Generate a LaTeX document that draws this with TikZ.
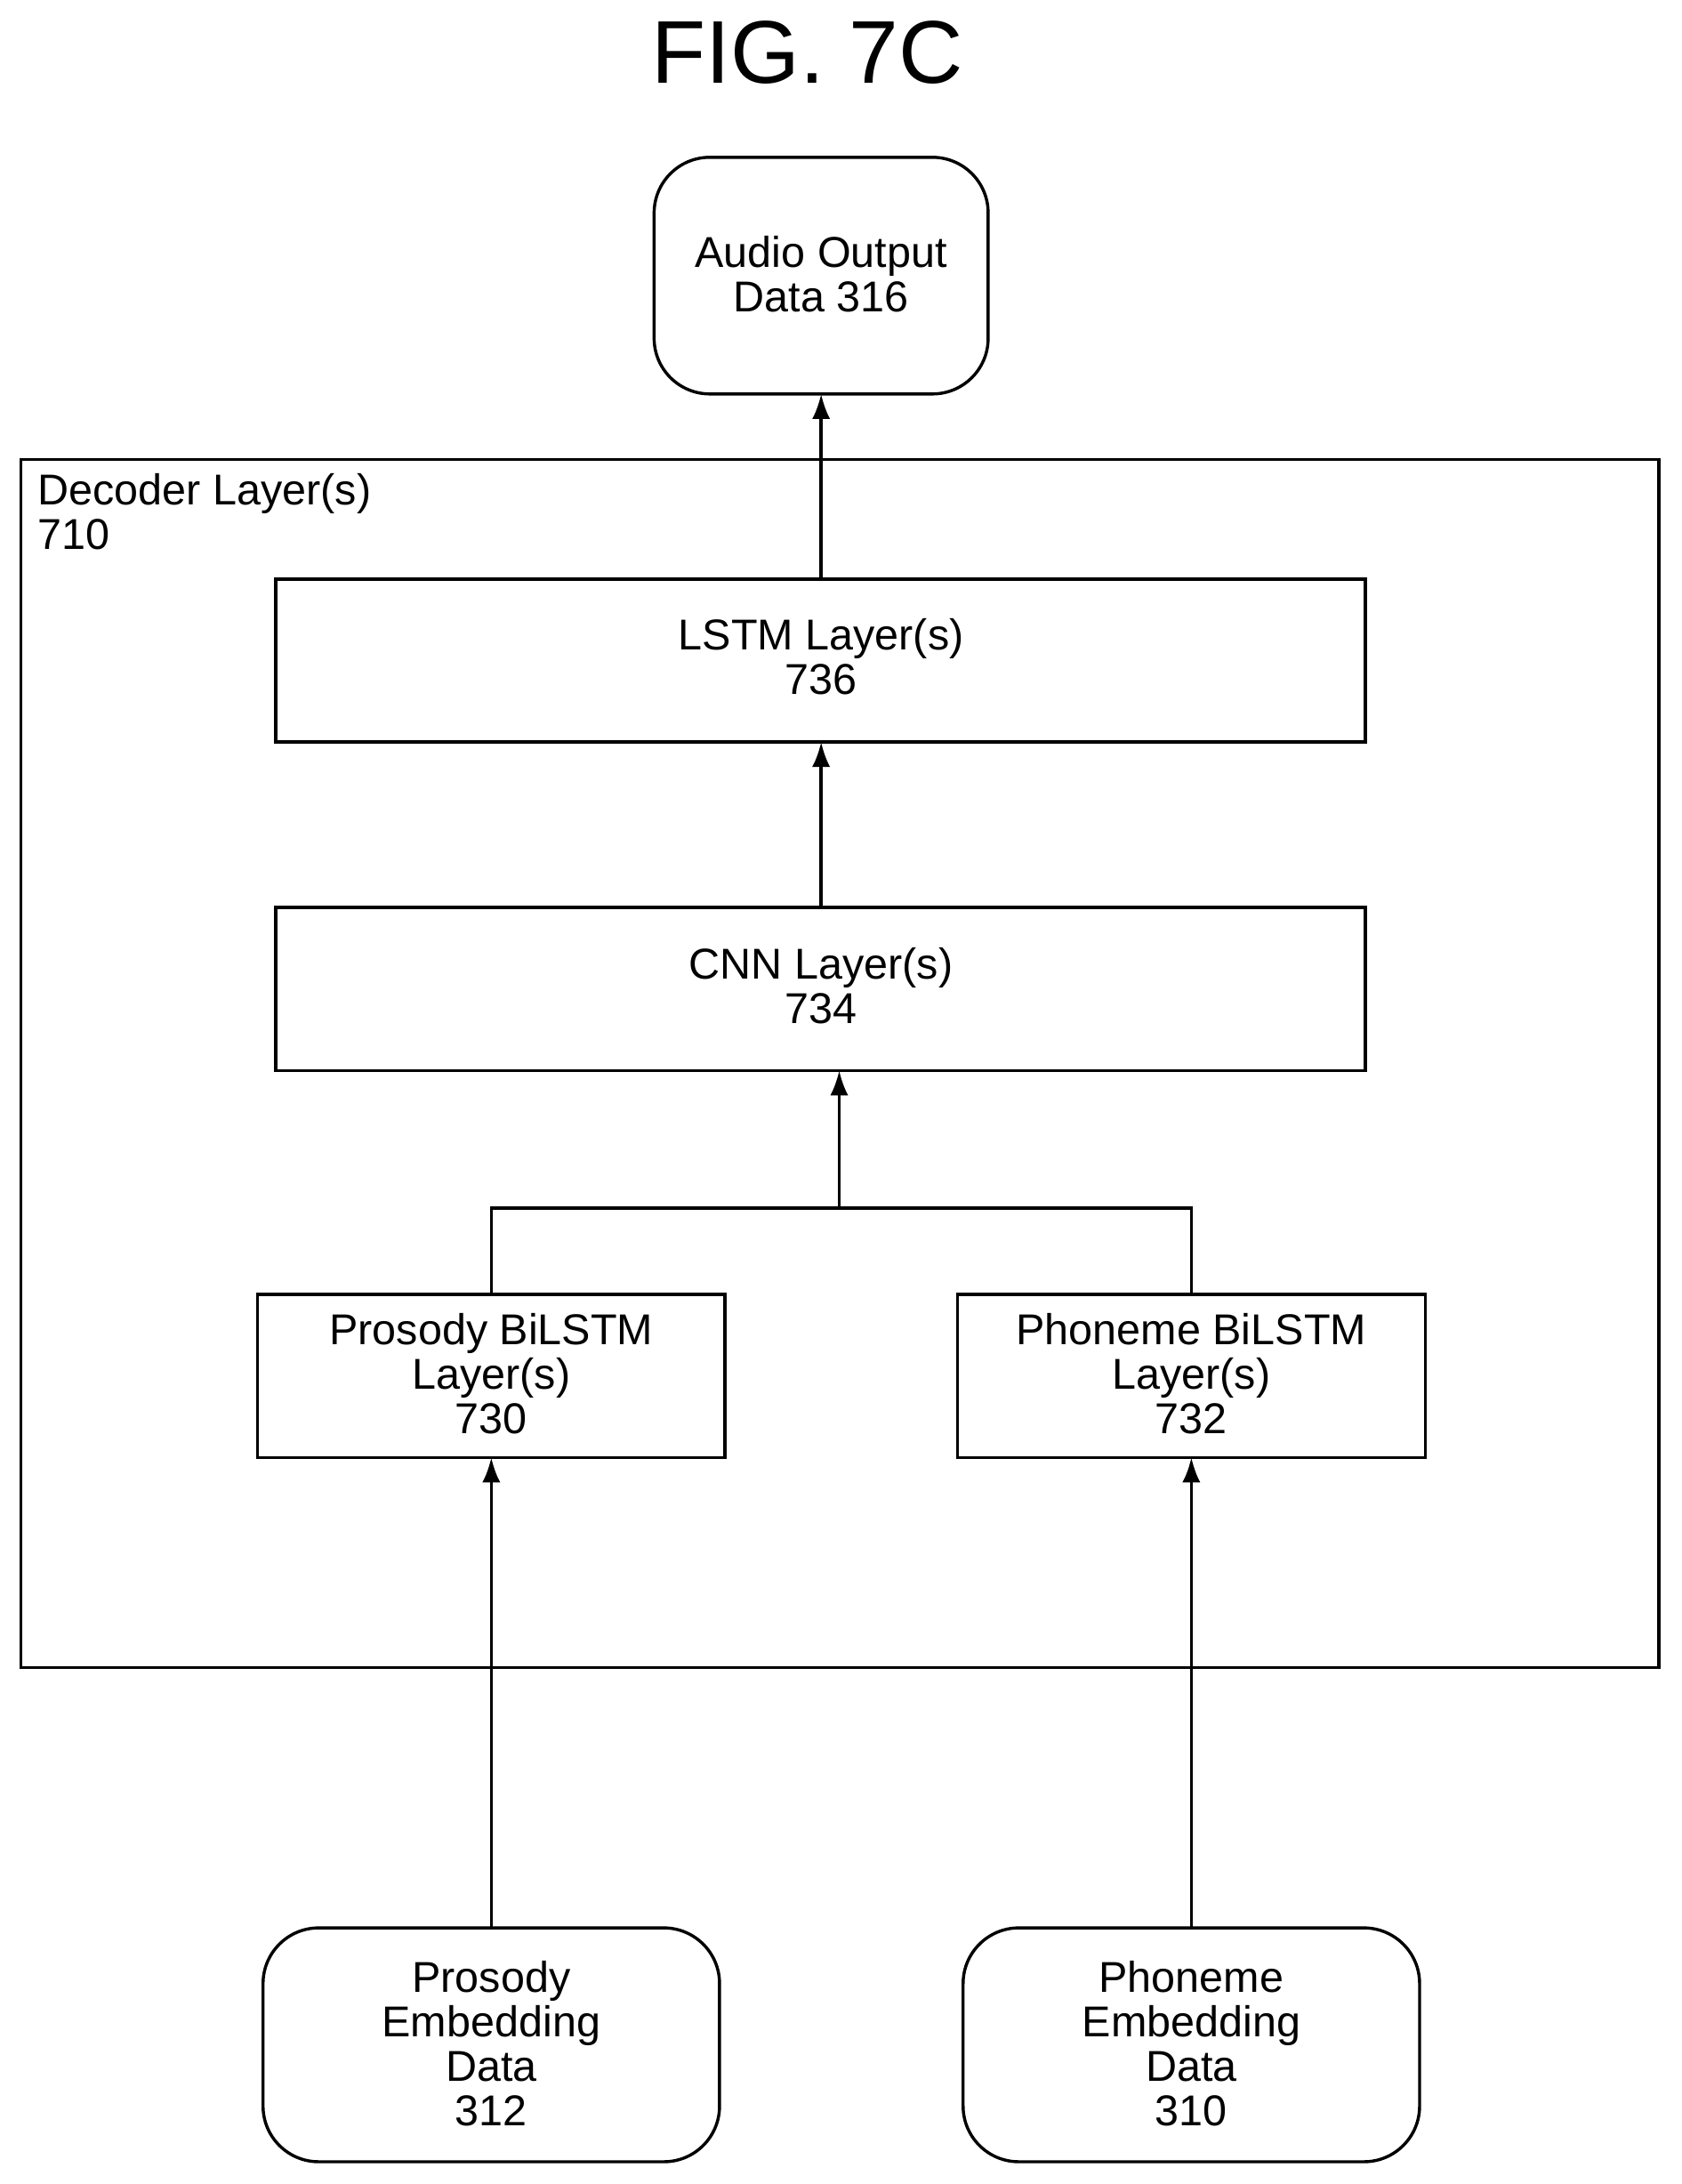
\documentclass[tikz,border=0pt]{standalone}
\usepackage{fontspec}
\setmainfont{Liberation Sans}
\usetikzlibrary{arrows.meta}
\begin{document}
\begin{tikzpicture}[x=1pt,y=-1pt,
  txt/.style={font=\fontsize{31}{32}\selectfont,align=center},
  box/.style={draw,line width=2.2pt},
  rbox/.style={draw,line width=2.2pt,rounded corners=40pt},
  arr/.style={line width=2.2pt,-{Latex[length=18pt,width=13pt]}},
  ln/.style={line width=2.2pt}]
\useasboundingbox (0,0) rectangle (1208,1569);
\node[font=\fontsize{64}{70}\selectfont] (title) at (580,38) {FIG. 7C};
\draw[rbox] (470,113) rectangle (710,283);
\node[txt] (audio) at (590,197) {Audio Output\\Data 316};
\coordinate (audioB) at (590,283);
\draw[box] (15,330) rectangle (1192,1198);
\node[txt,align=left,anchor=north west,inner sep=0pt] (dec) at (27,340) {Decoder Layer(s)\\710};
\draw[box] (198,416) rectangle (981,533);
\node[txt] (lstm) at (590,472) {LSTM Layer(s)\\736};
\coordinate (lstmT) at (590,416); \coordinate (lstmB) at (590,533);
\draw[box] (198,652) rectangle (981,769);
\node[txt] (cnn) at (590,708) {CNN Layer(s)\\734};
\coordinate (cnnT) at (590,652); \coordinate (cnnB) at (603,769);
\draw[box] (185,930) rectangle (521,1047);
\node[txt] (pb) at (353,987) {Prosody BiLSTM\\Layer(s)\\730};
\draw[box] (688,930) rectangle (1024,1047);
\node[txt] (nb) at (856,987) {Phoneme BiLSTM\\Layer(s)\\732};
\coordinate (pbT) at (353,930); \coordinate (pbB) at (353,1047);
\coordinate (nbT) at (856,930); \coordinate (nbB) at (856,1047);
\coordinate (mL) at (353,868); \coordinate (mR) at (856,868); \coordinate (mC) at (603,868);
\draw[rbox] (189,1385) rectangle (517,1553);
\node[txt] (pe) at (353,1468) {Prosody\\Embedding\\Data\\312};
\draw[rbox] (692,1385) rectangle (1020,1553);
\node[txt] (ne) at (856,1468) {Phoneme\\Embedding\\Data\\310};
\coordinate (peT) at (353,1385); \coordinate (neT) at (856,1385);
\draw[arr] (lstmT) -- (audioB);
\draw[arr] (cnnT) -- (lstmB);
\draw[ln] (pbT) -- (mL) -- (mR) -- (nbT);
\draw[arr] (mC) -- (cnnB);
\draw[arr] (peT) -- (pbB);
\draw[arr] (neT) -- (nbB);
\end{tikzpicture}
\end{document}
